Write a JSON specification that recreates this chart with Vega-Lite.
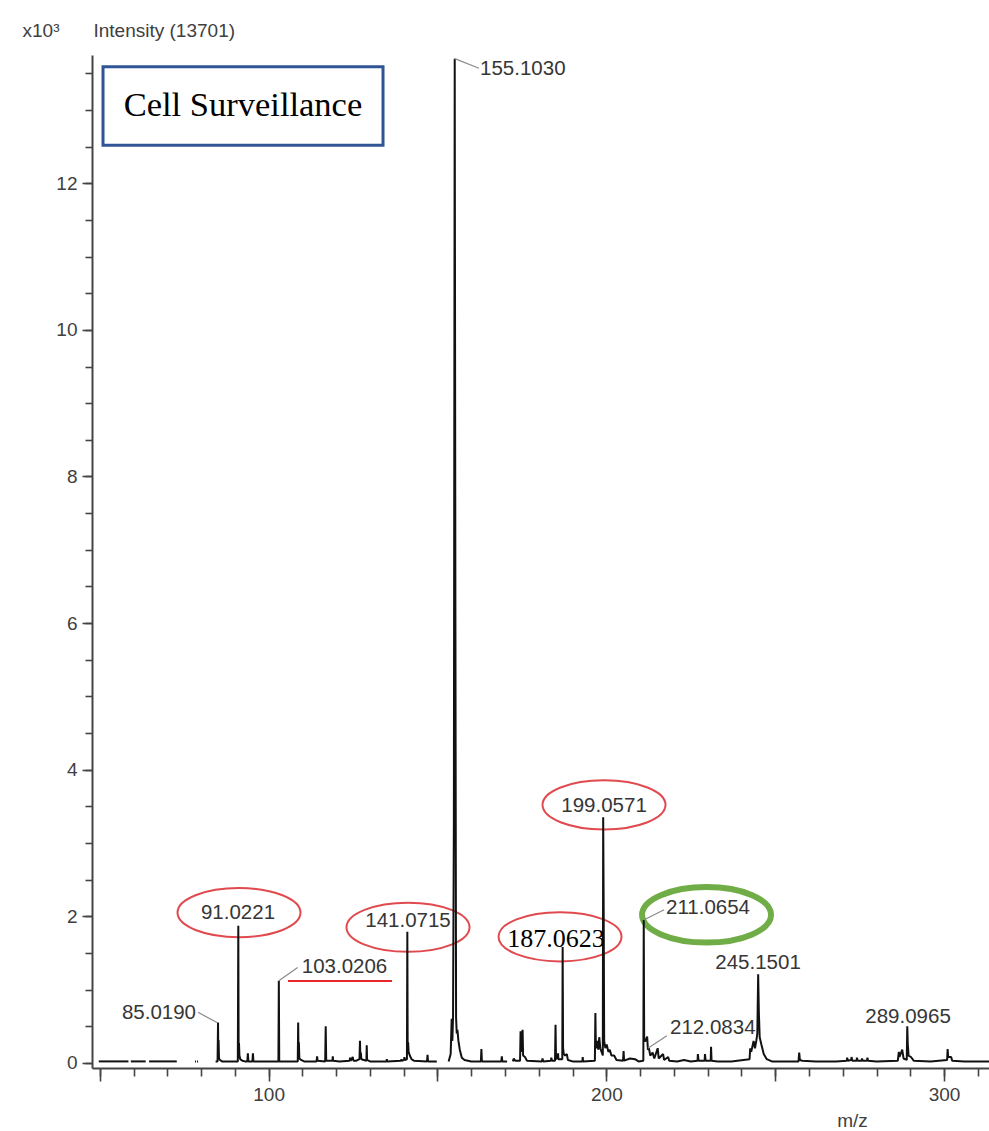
{
  "$schema": "https://vega.github.io/schema/vega-lite/v6.json",
  "width": 897,
  "height": 1013,
  "autosize": {"type": "none"},
  "padding": {"left": 92, "top": 55, "right": 0, "bottom": 63},
  "background": "white",
  "config": {
    "view": {"stroke": null},
    "font": "Liberation Sans",
    "axis": {
      "domainColor": "#444444",
      "domainWidth": 2,
      "tickColor": "#444444",
      "tickWidth": 1.6,
      "labelColor": "#404040",
      "labelFont": "Liberation Sans",
      "labelFontSize": 19,
      "titleFont": "Liberation Sans",
      "titleFontWeight": "normal",
      "titleColor": "#404040",
      "titleFontSize": 19,
      "grid": false
    }
  },
  "datasets": {
    "spec": [
      {"mz": 49.7, "i": 0.02, "s": "A"}, {"mz": 58.5, "i": 0.02, "s": "A"},
      {"mz": 59.2, "i": 0.02, "s": "B"}, {"mz": 63.6, "i": 0.02, "s": "B"},
      {"mz": 64.6, "i": 0.02, "s": "C"}, {"mz": 72.8, "i": 0.02, "s": "C"},
      {"mz": 78.2, "i": 0.02, "s": "D"}, {"mz": 78.5, "i": 0.02, "s": "D"},
      {"mz": 78.8, "i": 0.02, "s": "E"}, {"mz": 79.1, "i": 0.02, "s": "E"},
      {"mz": 84.3, "i": 0.02, "s": "F"}, {"mz": 84.88, "i": 0.02, "s": "F"}, {"mz": 85.02, "i": 0.55, "s": "F"}, {"mz": 85.1, "i": 0.1, "s": "F"}, {"mz": 85.18, "i": 0.31, "s": "F"}, {"mz": 85.3, "i": 0.06, "s": "F"}, {"mz": 85.6, "i": 0.04, "s": "F"}, {"mz": 86.2, "i": 0.02, "s": "F"},
      {"mz": 90.0, "i": 0.02, "s": "F"}, {"mz": 90.88, "i": 0.02, "s": "F"}, {"mz": 91.02, "i": 1.87, "s": "F"}, {"mz": 91.12, "i": 0.12, "s": "F"}, {"mz": 91.22, "i": 0.27, "s": "F"}, {"mz": 91.35, "i": 0.1, "s": "F"}, {"mz": 91.6, "i": 0.05, "s": "F"}, {"mz": 92.2, "i": 0.03, "s": "F"}, {"mz": 93.0, "i": 0.02, "s": "F"},
      {"mz": 93.7, "i": 0.02, "s": "F"}, {"mz": 93.85, "i": 0.13, "s": "F"}, {"mz": 94.0, "i": 0.02, "s": "F"}, {"mz": 95.2, "i": 0.02, "s": "F"}, {"mz": 95.35, "i": 0.13, "s": "F"}, {"mz": 95.5, "i": 0.02, "s": "F"}, {"mz": 96.5, "i": 0.02, "s": "F"},
      {"mz": 102.9, "i": 0.02, "s": "F"}, {"mz": 103.02, "i": 1.12, "s": "F"}, {"mz": 103.14, "i": 0.02, "s": "F"}, {"mz": 105.0, "i": 0.02, "s": "F"},
      {"mz": 108.62, "i": 0.02, "s": "F"}, {"mz": 108.75, "i": 0.55, "s": "F"}, {"mz": 108.85, "i": 0.12, "s": "F"}, {"mz": 108.95, "i": 0.28, "s": "F"}, {"mz": 109.1, "i": 0.06, "s": "F"}, {"mz": 109.6, "i": 0.04, "s": "F"}, {"mz": 110.5, "i": 0.02, "s": "F"},
      {"mz": 114.2, "i": 0.02, "s": "F"}, {"mz": 114.35, "i": 0.09, "s": "F"}, {"mz": 114.5, "i": 0.03, "s": "F"}, {"mz": 116.75, "i": 0.02, "s": "F"}, {"mz": 116.9, "i": 0.5, "s": "F"}, {"mz": 117.05, "i": 0.03, "s": "F"},
      {"mz": 118.9, "i": 0.03, "s": "F"}, {"mz": 119.0, "i": 0.09, "s": "F"}, {"mz": 119.1, "i": 0.03, "s": "F"}, {"mz": 121.0, "i": 0.02, "s": "F"}, {"mz": 124.0, "i": 0.03, "s": "F"}, {"mz": 124.1, "i": 0.07, "s": "F"}, {"mz": 124.3, "i": 0.03, "s": "F"}, {"mz": 124.9, "i": 0.08, "s": "F"}, {"mz": 125.1, "i": 0.03, "s": "F"}, {"mz": 126.0, "i": 0.03, "s": "F"},
      {"mz": 126.9, "i": 0.05, "s": "F"}, {"mz": 127.05, "i": 0.3, "s": "F"}, {"mz": 127.15, "i": 0.1, "s": "F"}, {"mz": 127.3, "i": 0.14, "s": "F"}, {"mz": 127.45, "i": 0.05, "s": "F"}, {"mz": 128.95, "i": 0.03, "s": "F"}, {"mz": 129.05, "i": 0.24, "s": "F"}, {"mz": 129.15, "i": 0.04, "s": "F"}, {"mz": 130.0, "i": 0.02, "s": "F"},
      {"mz": 134.9, "i": 0.02, "s": "F"}, {"mz": 135.0, "i": 0.05, "s": "F"}, {"mz": 135.1, "i": 0.02, "s": "F"}, {"mz": 139.2, "i": 0.03, "s": "F"}, {"mz": 139.3, "i": 0.05, "s": "F"}, {"mz": 139.4, "i": 0.03, "s": "F"}, {"mz": 140.1, "i": 0.04, "s": "F"}, {"mz": 140.2, "i": 0.08, "s": "F"}, {"mz": 140.3, "i": 0.04, "s": "F"},
      {"mz": 140.95, "i": 0.05, "s": "F"}, {"mz": 141.07, "i": 1.79, "s": "F"}, {"mz": 141.17, "i": 0.15, "s": "F"}, {"mz": 141.3, "i": 0.28, "s": "F"}, {"mz": 141.45, "i": 0.15, "s": "F"}, {"mz": 141.8, "i": 0.1, "s": "F"}, {"mz": 142.3, "i": 0.05, "s": "F"}, {"mz": 143.0, "i": 0.03, "s": "F"},
      {"mz": 146.9, "i": 0.02, "s": "F"}, {"mz": 147.05, "i": 0.11, "s": "F"}, {"mz": 147.2, "i": 0.02, "s": "F"}, {"mz": 149.8, "i": 0.02, "s": "F"},
      {"mz": 153.3, "i": 0.02, "s": "G"}, {"mz": 153.9, "i": 0.12, "s": "G"}, {"mz": 154.2, "i": 0.6, "s": "G"}, {"mz": 154.4, "i": 0.3, "s": "G"}, {"mz": 154.6, "i": 0.62, "s": "G"}, {"mz": 154.85, "i": 3.3, "s": "G"}, {"mz": 155.1, "i": 13.7, "s": "G"}, {"mz": 155.3, "i": 6.2, "s": "G"}, {"mz": 155.5, "i": 0.62, "s": "G"}, {"mz": 155.7, "i": 0.4, "s": "G"}, {"mz": 155.9, "i": 0.45, "s": "G"}, {"mz": 156.2, "i": 0.3, "s": "G"}, {"mz": 156.6, "i": 0.18, "s": "G"}, {"mz": 157.2, "i": 0.07, "s": "G"}, {"mz": 158.0, "i": 0.04, "s": "G"}, {"mz": 160.0, "i": 0.02, "s": "G"},
      {"mz": 162.85, "i": 0.02, "s": "G"}, {"mz": 163.0, "i": 0.19, "s": "G"}, {"mz": 163.15, "i": 0.02, "s": "G"}, {"mz": 166.0, "i": 0.02, "s": "G"}, {"mz": 168.9, "i": 0.02, "s": "G"}, {"mz": 169.05, "i": 0.09, "s": "G"}, {"mz": 169.2, "i": 0.02, "s": "G"}, {"mz": 170.6, "i": 0.02, "s": "G"},
      {"mz": 172.3, "i": 0.02, "s": "H"}, {"mz": 172.6, "i": 0.06, "s": "H"}, {"mz": 173.0, "i": 0.03, "s": "H"}, {"mz": 174.45, "i": 0.03, "s": "H"}, {"mz": 174.6, "i": 0.43, "s": "H"}, {"mz": 174.8, "i": 0.15, "s": "H"}, {"mz": 175.2, "i": 0.45, "s": "H"}, {"mz": 175.35, "i": 0.1, "s": "H"}, {"mz": 175.9, "i": 0.08, "s": "H"}, {"mz": 176.5, "i": 0.03, "s": "H"},
      {"mz": 180.9, "i": 0.02, "s": "H"}, {"mz": 181.1, "i": 0.06, "s": "H"}, {"mz": 181.3, "i": 0.02, "s": "H"}, {"mz": 183.6, "i": 0.03, "s": "H"}, {"mz": 183.7, "i": 0.07, "s": "H"}, {"mz": 183.9, "i": 0.03, "s": "H"}, {"mz": 184.8, "i": 0.03, "s": "H"}, {"mz": 184.95, "i": 0.52, "s": "H"}, {"mz": 185.1, "i": 0.05, "s": "H"}, {"mz": 185.6, "i": 0.08, "s": "H"}, {"mz": 185.7, "i": 0.13, "s": "H"}, {"mz": 185.8, "i": 0.05, "s": "H"},
      {"mz": 186.95, "i": 0.05, "s": "H"}, {"mz": 187.06, "i": 1.58, "s": "H"}, {"mz": 187.18, "i": 0.2, "s": "H"}, {"mz": 187.4, "i": 0.12, "s": "H"}, {"mz": 187.8, "i": 0.1, "s": "H"}, {"mz": 188.3, "i": 0.12, "s": "H"}, {"mz": 188.6, "i": 0.04, "s": "H"}, {"mz": 190.0, "i": 0.02, "s": "H"}, {"mz": 192.9, "i": 0.02, "s": "H"}, {"mz": 193.0, "i": 0.08, "s": "H"}, {"mz": 193.1, "i": 0.02, "s": "H"},
      {"mz": 196.6, "i": 0.03, "s": "H"}, {"mz": 196.75, "i": 0.68, "s": "H"}, {"mz": 196.9, "i": 0.2, "s": "H"}, {"mz": 197.3, "i": 0.3, "s": "H"}, {"mz": 197.6, "i": 0.18, "s": "H"}, {"mz": 197.9, "i": 0.35, "s": "H"}, {"mz": 198.2, "i": 0.2, "s": "H"}, {"mz": 198.95, "i": 0.1, "s": "H"}, {"mz": 199.06, "i": 3.35, "s": "H"}, {"mz": 199.2, "i": 2.16, "s": "H"}, {"mz": 199.35, "i": 0.3, "s": "H"}, {"mz": 199.7, "i": 0.2, "s": "H"}, {"mz": 200.1, "i": 0.25, "s": "H"}, {"mz": 200.6, "i": 0.15, "s": "H"}, {"mz": 201.0, "i": 0.18, "s": "H"}, {"mz": 201.5, "i": 0.1, "s": "H"}, {"mz": 202.3, "i": 0.1, "s": "H"}, {"mz": 203.0, "i": 0.04, "s": "H"},
      {"mz": 204.95, "i": 0.03, "s": "H"}, {"mz": 205.1, "i": 0.16, "s": "H"}, {"mz": 205.25, "i": 0.03, "s": "H"}, {"mz": 207.0, "i": 0.06, "s": "H"}, {"mz": 208.5, "i": 0.05, "s": "H"}, {"mz": 209.5, "i": 0.02, "s": "H"},
      {"mz": 210.95, "i": 0.03, "s": "H"}, {"mz": 211.07, "i": 1.95, "s": "H"}, {"mz": 211.2, "i": 0.3, "s": "H"}, {"mz": 211.6, "i": 0.3, "s": "H"}, {"mz": 212.08, "i": 0.36, "s": "H"}, {"mz": 212.3, "i": 0.18, "s": "H"}, {"mz": 212.6, "i": 0.2, "s": "H"}, {"mz": 213.0, "i": 0.1, "s": "H"}, {"mz": 213.7, "i": 0.14, "s": "H"}, {"mz": 214.2, "i": 0.06, "s": "H"}, {"mz": 215.2, "i": 0.2, "s": "H"}, {"mz": 215.5, "i": 0.06, "s": "H"}, {"mz": 216.8, "i": 0.12, "s": "H"}, {"mz": 217.1, "i": 0.04, "s": "H"}, {"mz": 218.3, "i": 0.08, "s": "H"}, {"mz": 218.6, "i": 0.03, "s": "H"},
      {"mz": 221.0, "i": 0.02, "s": "H"}, {"mz": 223.0, "i": 0.04, "s": "H"}, {"mz": 225.0, "i": 0.02, "s": "H"}, {"mz": 227.0, "i": 0.03, "s": "H"}, {"mz": 227.1, "i": 0.12, "s": "H"}, {"mz": 227.3, "i": 0.03, "s": "H"}, {"mz": 229.1, "i": 0.03, "s": "H"}, {"mz": 229.2, "i": 0.12, "s": "H"}, {"mz": 229.4, "i": 0.03, "s": "H"}, {"mz": 230.9, "i": 0.03, "s": "H"}, {"mz": 231.0, "i": 0.22, "s": "H"}, {"mz": 231.15, "i": 0.03, "s": "H"}, {"mz": 233.0, "i": 0.02, "s": "H"}, {"mz": 237.0, "i": 0.02, "s": "H"},
      {"mz": 242.4, "i": 0.05, "s": "H"}, {"mz": 242.6, "i": 0.2, "s": "H"}, {"mz": 242.9, "i": 0.15, "s": "H"}, {"mz": 243.6, "i": 0.3, "s": "H"}, {"mz": 244.0, "i": 0.2, "s": "H"}, {"mz": 244.4, "i": 0.3, "s": "H"}, {"mz": 244.7, "i": 0.4, "s": "H"}, {"mz": 244.95, "i": 1.21, "s": "H"}, {"mz": 245.15, "i": 0.7, "s": "H"}, {"mz": 245.4, "i": 0.35, "s": "H"}, {"mz": 245.9, "i": 0.25, "s": "H"}, {"mz": 246.6, "i": 0.12, "s": "H"}, {"mz": 247.5, "i": 0.05, "s": "H"}, {"mz": 249.0, "i": 0.02, "s": "H"},
      {"mz": 256.9, "i": 0.02, "s": "H"}, {"mz": 257.1, "i": 0.14, "s": "H"}, {"mz": 257.3, "i": 0.04, "s": "H"}, {"mz": 258.0, "i": 0.03, "s": "H"}, {"mz": 262.0, "i": 0.02, "s": "H"}, {"mz": 268.0, "i": 0.02, "s": "H"},
      {"mz": 271.2, "i": 0.03, "s": "H"}, {"mz": 271.3, "i": 0.07, "s": "H"}, {"mz": 271.5, "i": 0.03, "s": "H"}, {"mz": 272.5, "i": 0.04, "s": "H"}, {"mz": 272.6, "i": 0.08, "s": "H"}, {"mz": 272.8, "i": 0.03, "s": "H"}, {"mz": 274.1, "i": 0.03, "s": "H"}, {"mz": 274.2, "i": 0.07, "s": "H"}, {"mz": 274.4, "i": 0.03, "s": "H"}, {"mz": 275.6, "i": 0.03, "s": "H"}, {"mz": 275.7, "i": 0.06, "s": "H"}, {"mz": 275.9, "i": 0.03, "s": "H"}, {"mz": 277.2, "i": 0.03, "s": "H"}, {"mz": 277.3, "i": 0.07, "s": "H"}, {"mz": 277.5, "i": 0.03, "s": "H"}, {"mz": 280.0, "i": 0.02, "s": "H"},
      {"mz": 286.3, "i": 0.03, "s": "H"}, {"mz": 286.6, "i": 0.15, "s": "H"}, {"mz": 286.8, "i": 0.08, "s": "H"}, {"mz": 287.6, "i": 0.18, "s": "H"}, {"mz": 288.0, "i": 0.06, "s": "H"}, {"mz": 288.95, "i": 0.04, "s": "H"}, {"mz": 289.1, "i": 0.5, "s": "H"}, {"mz": 289.25, "i": 0.25, "s": "H"}, {"mz": 289.5, "i": 0.1, "s": "H"}, {"mz": 290.2, "i": 0.08, "s": "H"}, {"mz": 291.0, "i": 0.03, "s": "H"}, {"mz": 296.0, "i": 0.02, "s": "H"},
      {"mz": 300.9, "i": 0.04, "s": "H"}, {"mz": 301.05, "i": 0.19, "s": "H"}, {"mz": 301.2, "i": 0.08, "s": "H"}, {"mz": 302.1, "i": 0.08, "s": "H"}, {"mz": 302.4, "i": 0.03, "s": "H"}, {"mz": 306.0, "i": 0.02, "s": "H"}, {"mz": 313.3, "i": 0.02, "s": "H"}
    ],
    "lc": [
      {"t": "91.0221", "mz": 90.93, "i": 2.045},
      {"t": "141.0715", "mz": 141.27, "i": 1.935},
      {"t": "199.0571", "mz": 199.31, "i": 3.505},
      {"t": "245.1501", "mz": 244.92, "i": 1.363},
      {"t": "289.0965", "mz": 289.33, "i": 0.626}
    ],
    "ll": [
      {"t": "155.1030", "mz": 162.6, "i": 13.56},
      {"t": "211.0654", "mz": 217.67, "i": 2.113},
      {"t": "212.0834", "mz": 218.86, "i": 0.476},
      {"t": "103.0206", "mz": 109.8, "i": 1.308}
    ],
    "lr": [{"t": "85.0190", "mz": 78.5, "i": 0.68}],
    "ls": [{"t": "187.0623", "mz": 185.1, "i": 1.69}],
    "lead": [
      {"mz": 79.09, "i": 0.69, "mz2": 84.7, "i2": 0.55},
      {"mz": 103.02, "i": 1.12, "mz2": 108.6, "i2": 1.3},
      {"mz": 155.1, "i": 13.7, "mz2": 162.3, "i2": 13.57},
      {"mz": 211.07, "i": 1.95, "mz2": 217.1, "i2": 2.09},
      {"mz": 212.3, "i": 0.2, "mz2": 217.9, "i2": 0.37}
    ],
    "ell": [
      {"mz": 91.23, "i": 2.05},
      {"mz": 141.27, "i": 1.85},
      {"mz": 199.31, "i": 3.52},
      {"mz": 186.28, "i": 1.72}
    ],
    "gell": [{"mz": 229.67, "i": 2.02}],
    "ul": [{"mz": 105.74, "mz2": 136.54, "i": 1.117}],
    "box": [{"mz": 50.96, "mz2": 133.87, "i": 13.59, "i2": 12.52, "t": "Cell Surveillance", "cx": 92.4, "cy": 13.05}]
  },
  "resolve": {"axis": {"x": "independent", "y": "independent"}},
  "layer": [
    {
      "data": {"name": "box"},
      "mark": {"type": "rect", "fill": "white", "stroke": "#2F5597", "strokeWidth": 3},
      "encoding": {
        "x": {"field": "mz", "type": "quantitative", "scale": {"domain": [47.7, 313.3], "nice": false, "zero": false}, "axis": null},
        "x2": {"field": "mz2"},
        "y": {"field": "i", "type": "quantitative", "scale": {"domain": [-0.07, 13.75], "nice": false, "zero": false}, "axis": null},
        "y2": {"field": "i2"}
      }
    },
    {
      "data": {"name": "box"},
      "mark": {"type": "text", "font": "Liberation Serif", "fontSize": 34.5, "color": "black", "align": "center", "baseline": "middle"},
      "encoding": {
        "x": {"field": "cx", "type": "quantitative", "scale": {"domain": [47.7, 313.3], "nice": false, "zero": false}, "axis": null},
        "y": {"field": "cy", "type": "quantitative", "scale": {"domain": [-0.07, 13.75], "nice": false, "zero": false}, "axis": null},
        "text": {"field": "t"}
      }
    },
    {
      "data": {"name": "ell"},
      "mark": {"type": "point", "shape": "M -1 0 A 1 0.4 0 1 1 1 0 A 1 0.4 0 1 1 -1 0 Z", "size": 15129, "filled": false, "stroke": "#E04A4F", "strokeWidth": 2, "opacity": 1},
      "encoding": {
        "x": {"field": "mz", "type": "quantitative", "scale": {"domain": [47.7, 313.3], "nice": false, "zero": false}, "axis": null},
        "y": {"field": "i", "type": "quantitative", "scale": {"domain": [-0.07, 13.75], "nice": false, "zero": false}, "axis": null}
      }
    },
    {
      "data": {"name": "gell"},
      "mark": {"type": "point", "shape": "M -1 0 A 1 0.43 0 1 1 1 0 A 1 0.43 0 1 1 -1 0 Z", "size": 16641, "filled": false, "stroke": "#70AD47", "strokeWidth": 6, "opacity": 1},
      "encoding": {
        "x": {"field": "mz", "type": "quantitative", "scale": {"domain": [47.7, 313.3], "nice": false, "zero": false}, "axis": null},
        "y": {"field": "i", "type": "quantitative", "scale": {"domain": [-0.07, 13.75], "nice": false, "zero": false}, "axis": null}
      }
    },
    {
      "data": {"name": "spec"},
      "mark": {"type": "line", "color": "#111111", "strokeWidth": 2, "strokeJoin": "bevel"},
      "encoding": {
        "x": {"field": "mz", "type": "quantitative", "scale": {"domain": [47.7, 313.3], "nice": false, "zero": false},
          "axis": {"orient": "bottom", "values": [50, 60, 70, 80, 90, 100, 110, 120, 130, 140, 150, 160, 170, 180, 190, 200, 210, 220, 230, 240, 250, 260, 270, 280, 290, 300, 310], "tickSize": 8, "labels": false, "title": null, "domain": true}},
        "y": {"field": "i", "type": "quantitative", "scale": {"domain": [-0.07, 13.75], "nice": false, "zero": false},
          "axis": {"orient": "left", "values": [0, 0.5, 1, 1.5, 2, 2.5, 3, 3.5, 4, 4.5, 5, 5.5, 6, 6.5, 7, 7.5, 8, 8.5, 9, 9.5, 10, 10.5, 11, 11.5, 12, 12.5, 13, 13.5], "tickSize": 7, "labels": false, "domain": true,
            "title": "x10³", "titleAngle": 0, "titleX": -70, "titleY": -25, "titleAlign": "left", "titleBaseline": "middle"}},
        "detail": {"field": "s"}
      }
    },
    {
      "data": {"name": "lead"},
      "mark": {"type": "rule", "color": "#8a8a8a", "strokeWidth": 1.2},
      "encoding": {
        "x": {"field": "mz", "type": "quantitative", "scale": {"domain": [47.7, 313.3], "nice": false, "zero": false}, "axis": null},
        "x2": {"field": "mz2"},
        "y": {"field": "i", "type": "quantitative", "scale": {"domain": [-0.07, 13.75], "nice": false, "zero": false}, "axis": null},
        "y2": {"field": "i2"}
      }
    },
    {
      "data": {"name": "lc"},
      "mark": {"type": "text", "fontSize": 20.5, "color": "#363636", "align": "center", "baseline": "middle"},
      "encoding": {
        "x": {"field": "mz", "type": "quantitative", "scale": {"domain": [47.7, 313.3], "nice": false, "zero": false},
          "axis": {"orient": "bottom", "values": [50, 100, 150, 200, 250, 300], "tickSize": 13, "domain": false, "labelExpr": "datum.value % 100 === 0 ? datum.label : ''", "labelPadding": 4,
            "title": "m/z", "titleX": 760, "titleY": 52, "titleAlign": "center", "titleBaseline": "middle"}},
        "y": {"field": "i", "type": "quantitative", "scale": {"domain": [-0.07, 13.75], "nice": false, "zero": false},
          "axis": {"orient": "left", "values": [0, 2, 4, 6, 8, 10, 12], "tickSize": 10, "domain": false, "labelPadding": 5,
            "title": "Intensity (13701)", "titleAngle": 0, "titleX": 1, "titleY": -25, "titleAlign": "left", "titleBaseline": "middle"}},
        "text": {"field": "t"}
      }
    },
    {
      "data": {"name": "ll"},
      "mark": {"type": "text", "fontSize": 20.5, "color": "#363636", "align": "left", "baseline": "middle"},
      "encoding": {
        "x": {"field": "mz", "type": "quantitative", "scale": {"domain": [47.7, 313.3], "nice": false, "zero": false}, "axis": null},
        "y": {"field": "i", "type": "quantitative", "scale": {"domain": [-0.07, 13.75], "nice": false, "zero": false}, "axis": null},
        "text": {"field": "t"}
      }
    },
    {
      "data": {"name": "lr"},
      "mark": {"type": "text", "fontSize": 20.5, "color": "#363636", "align": "right", "baseline": "middle"},
      "encoding": {
        "x": {"field": "mz", "type": "quantitative", "scale": {"domain": [47.7, 313.3], "nice": false, "zero": false}, "axis": null},
        "y": {"field": "i", "type": "quantitative", "scale": {"domain": [-0.07, 13.75], "nice": false, "zero": false}, "axis": null},
        "text": {"field": "t"}
      }
    },
    {
      "data": {"name": "ls"},
      "mark": {"type": "text", "font": "Liberation Serif", "fontSize": 26, "color": "black", "align": "center", "baseline": "middle"},
      "encoding": {
        "x": {"field": "mz", "type": "quantitative", "scale": {"domain": [47.7, 313.3], "nice": false, "zero": false}, "axis": null},
        "y": {"field": "i", "type": "quantitative", "scale": {"domain": [-0.07, 13.75], "nice": false, "zero": false}, "axis": null},
        "text": {"field": "t"}
      }
    },
    {
      "data": {"name": "ul"},
      "mark": {"type": "rule", "color": "#E8262B", "strokeWidth": 2},
      "encoding": {
        "x": {"field": "mz", "type": "quantitative", "scale": {"domain": [47.7, 313.3], "nice": false, "zero": false}, "axis": null},
        "x2": {"field": "mz2"},
        "y": {"field": "i", "type": "quantitative", "scale": {"domain": [-0.07, 13.75], "nice": false, "zero": false}, "axis": null}
      }
    }
  ]
}
